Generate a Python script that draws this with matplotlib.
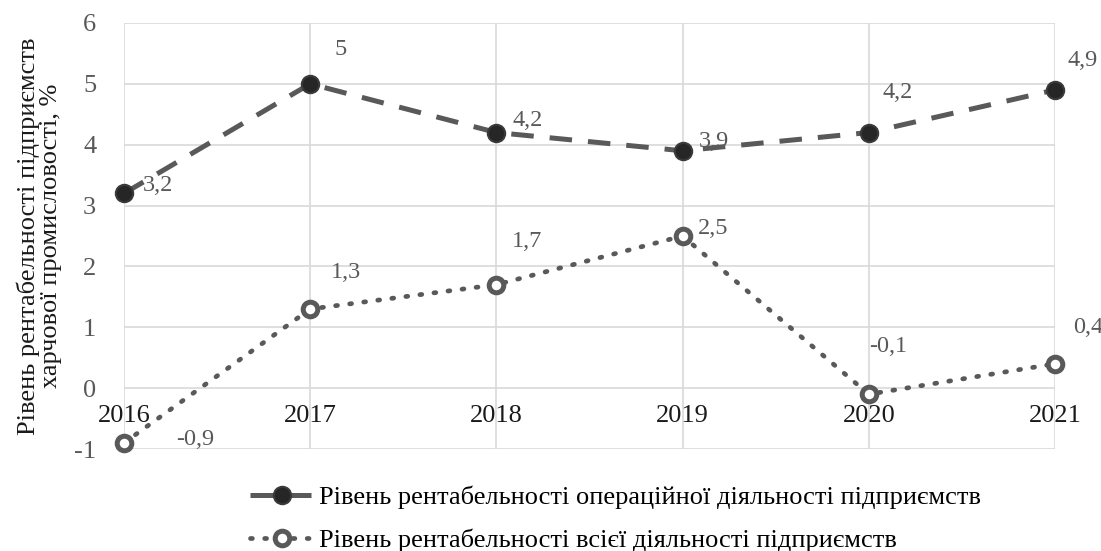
import matplotlib.pyplot as plt
from matplotlib.ticker import MultipleLocator

plt.rcParams['font.family'] = ['Liberation Serif', 'DejaVu Serif']
plt.rcParams['axes.unicode_minus'] = False

# дані
years = [2016, 2017, 2018, 2019, 2020, 2021]
oper = [3.2, 5, 4.2, 3.9, 4.2, 4.9]
total = [-0.9, 1.3, 1.7, 2.5, -0.1, 0.4]
oper_labels = ['3,2', '5', '4,2', '3,9', '4,2', '4,9']
total_labels = ['-0,9', '1,3', '1,7', '2,5', '-0,1', '0,4']

name_oper = 'Рівень рентабельності операційної діяльності підприємств'
name_total = 'Рівень рентабельності всієї діяльності підприємств'
ylabel = 'Рівень рентабельності підприємств\nхарчової промисловості, %'

# зсуви підписів (пікселі)
off_oper = [(34, 8), (30, 34), (31, 12), (31, 9), (29, 40), (28, 29)]
off_total = [(71, 3), (36, 37), (31, 43), (31, 7), (19, 48), (33, 36)]

fig = plt.figure(figsize=(11.01, 5.51), dpi=100)
ax = fig.add_axes([0.1126, 0.1851, 0.8456, 0.7732])

gray = '#595959'
ax.plot(years, oper, color=gray, lw=3.6, dashes=(4.5, 3.2), marker='o',
        ms=12.5, mfc='#262626', mec='#3a3a3a', mew=1.5, label=name_oper, zorder=3)
ax.plot(years, total, color=gray, lw=3.4, linestyle=(0, (0.4, 2.6)),
        dash_capstyle='round', marker='o', ms=10.5, mfc='white', mec=gray,
        mew=3.6, label=name_total, zorder=3)

for x, y, t, (dx, dy) in zip(years, oper, oper_labels, off_oper):
    ax.annotate(t, (x, y), xytext=(dx * 0.72, dy * 0.72), textcoords='offset points',
                ha='center', va='center', fontsize=17.5, color=gray)
for x, y, t, (dx, dy) in zip(years, total, total_labels, off_total):
    ax.annotate(t, (x, y), xytext=(dx * 0.72, dy * 0.72), textcoords='offset points',
                ha='center', va='center', fontsize=17.5, color=gray)

ax.set_xlim(2016, 2021)
ax.set_ylim(-1, 6)
ax.yaxis.set_major_locator(MultipleLocator(1))
ax.set_xticks(years)
ax.set_xticklabels([str(y) for y in years])
ax.grid(True, color='#d9d9d9', lw=1.2)
ax.set_axisbelow(True)
for s in ['top', 'right', 'left']:
    ax.spines[s].set_visible(False)
ax.spines['bottom'].set_position(('data', 0))
ax.spines['bottom'].set_visible(False)
ax.tick_params(axis='x', length=0, pad=12, labelsize=19, labelcolor='#1a1a1a')
ax.tick_params(axis='y', length=0, pad=20, labelsize=19, labelcolor=gray)
for l in ax.lines:
    l.set_clip_on(False)

ax.set_ylabel(ylabel, fontsize=19, color='#1a1a1a', labelpad=9, linespacing=1.0)

fig.legend(loc='lower center', bbox_to_anchor=(0.559, -0.045), ncol=1, frameon=False,
           fontsize=19, handlelength=2.4, handletextpad=0.2, labelspacing=0.75)

fig.savefig('out.png', dpi=100)
